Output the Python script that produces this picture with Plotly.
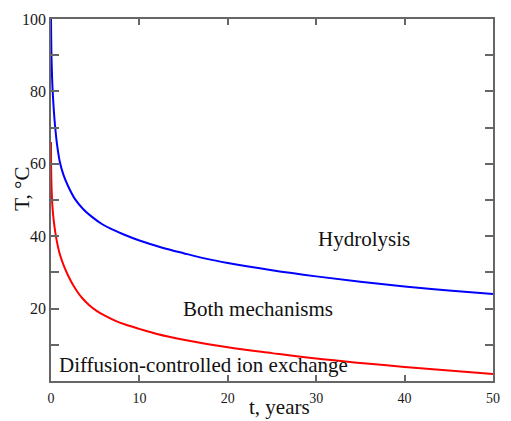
import plotly.graph_objects as go

# Hydrolysis curve (blue)
hyd_t = [0, 0.02, 0.06, 0.12, 0.19, 0.3, 0.44, 0.7, 1.0, 1.4, 1.9, 2.7, 3.6, 4.6, 5.8, 7.0, 8.1, 10, 12.5, 15, 17.5, 20, 25, 30, 35, 40, 45, 50]
hyd_T = [100, 95, 89, 84, 80, 75.5, 71, 65, 60.5, 57, 54, 50.3, 47.6, 45.4, 43.3, 41.8, 40.6, 38.8, 36.9, 35.3, 33.8, 32.6, 30.6, 28.9, 27.4, 26.1, 25, 24]

# Diffusion-controlled ion exchange curve (red)
ion_t = [0, 0.02, 0.1, 0.2, 0.4, 0.63, 1.0, 1.5, 2.0, 2.5, 3.0, 3.5, 4.3, 5.2, 6.2, 7.3, 8.4, 10, 12, 15, 20, 25, 30, 35, 40, 45, 50]
ion_T = [66, 58, 51, 47, 42.5, 39, 35, 31.5, 28.8, 26.5, 24.6, 23, 21, 19.3, 17.9, 16.6, 15.6, 14.4, 13, 11.4, 9.3, 7.7, 6.2, 5.0, 3.9, 2.9, 1.9]

x_ticks = [0, 10, 20, 30, 40, 50]
y_ticks = [0, 10, 20, 30, 40, 50, 60, 70, 80, 90, 100]
y_ticktext = ['', '', '20', '', '40', '', '60', '', '80', '', '100']

labels = [
    ("Hydrolysis", 35.4, 39.2),
    ("Both mechanisms", 23.4, 20.0),
    ("Diffusion-controlled ion exchange", 17.2, 4.3),
]

serif = "Liberation Serif, Times New Roman, serif"

fig = go.Figure()
fig.add_trace(go.Scatter(x=hyd_t, y=hyd_T, mode="lines",
                         line=dict(color="#0000ff", width=2, shape="spline", smoothing=1),
                         showlegend=False, hoverinfo="skip"))
fig.add_trace(go.Scatter(x=ion_t, y=ion_T, mode="lines",
                         line=dict(color="#ff0000", width=2, shape="spline", smoothing=1),
                         showlegend=False, hoverinfo="skip"))

for txt, xv, yv in labels:
    fig.add_annotation(x=xv, y=yv, text=txt, showarrow=False,
                       font=dict(family=serif, size=21, color="#111"),
                       xanchor="center", yanchor="middle")

# axis titles as annotations
fig.add_annotation(x=0.517, y=-0.073, xref="paper", yref="paper", text="t, years",
                   showarrow=False, font=dict(family=serif, size=21, color="#111"),
                   xanchor="center", yanchor="middle")
fig.add_annotation(x=-0.065, y=0.532, xref="paper", yref="paper", text="T, °C",
                   showarrow=False, textangle=-90,
                   font=dict(family=serif, size=21, color="#111"),
                   xanchor="center", yanchor="middle")

axis_common = dict(showline=True, linecolor="#666", linewidth=1.5, mirror="ticks",
                   ticks="inside", tickcolor="#666", tickwidth=1.5,
                   showgrid=False, zeroline=False)

fig.update_xaxes(range=[0, 50], tickvals=x_ticks, ticklen=6, ticklabelstandoff=3,
                 tickfont=dict(family=serif, size=14, color="#1a1a1a"), **axis_common)
fig.update_yaxes(range=[0, 100], tickvals=y_ticks, ticktext=y_ticktext, ticklen=8,
                 ticklabelstandoff=0,
                 tickfont=dict(family=serif, size=16, color="#1a1a1a"), **axis_common)

fig.update_layout(width=511, height=421,
                  margin=dict(l=51, r=11, t=12, b=40),
                  plot_bgcolor="white", paper_bgcolor="white")

fig.write_html("out.html")
